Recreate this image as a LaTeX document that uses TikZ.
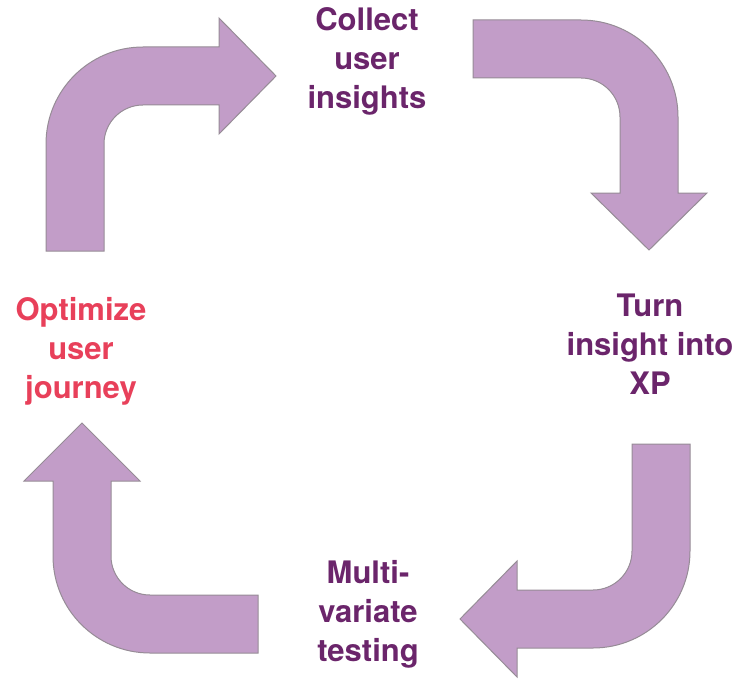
\documentclass[tikz,border=0pt]{standalone}
\usepackage{fontspec}
\setmainfont{TeX Gyre Heros}
\usetikzlibrary{calc}

\definecolor{lilac}{RGB}{194,157,200}
\definecolor{lilacline}{RGB}{150,140,150}
\definecolor{plum}{RGB}{107,37,107}
\definecolor{rosered}{RGB}{232,64,90}

\tikzset{
  bentarrow/.style={fill=lilac, draw=lilacline, line width=1pt, line join=miter},
  phase/.style={align=center, inner sep=0pt, text=plum,
    font=\bfseries\fontsize{31}{39}\selectfont}
}

\begin{document}
\begin{tikzpicture}[x=1pt,y=-1pt]
	\useasboundingbox (0,0) rectangle (738,679);
	% top left, up and right
	\draw[bentarrow] (46,251) -- (46,144) arc (180:270:97) -- (219,47) -- (219,18) -- (276,76)
		-- (219,134) -- (219,105) -- (143,105) arc (270:180:39) -- (104,251) -- cycle;
	% top right, right and down
	\draw[bentarrow] (473,20) -- (581,20) arc (270:360:97) -- (678,193) -- (707,193) -- (649,250)
		-- (591,193) -- (620,193) -- (620,117) arc (0:-90:39) -- (473,78) -- cycle;
	% bottom right, down and left
	\draw[bentarrow] (632,444) -- (690,444) -- (690,551) arc (0:90:97) -- (517,648) -- (517,677)
		-- (460,619) -- (517,561) -- (517,590) -- (593,590) arc (90:0:39) -- cycle;
	% bottom left, left and up
	\draw[bentarrow] (258,595) -- (258,653) -- (150,653) arc (90:180:97) -- (53,481) -- (24,481)
		-- (82,423) -- (140,481) -- (111,481) -- (111,556) arc (180:90:39) -- cycle;
	\node[phase] (collect) at (367,61) {Collect\\user\\insights};
	\node[phase] (turn) at (650,344) {Turn\\insight into\\XP};
	\node[phase] (multi) at (368,614) {Multi-\\variate\\testing};
	\node[phase, text=rosered] (optimize) at (81,351) {Optimize\\user\\journey};
\end{tikzpicture}
\end{document}
